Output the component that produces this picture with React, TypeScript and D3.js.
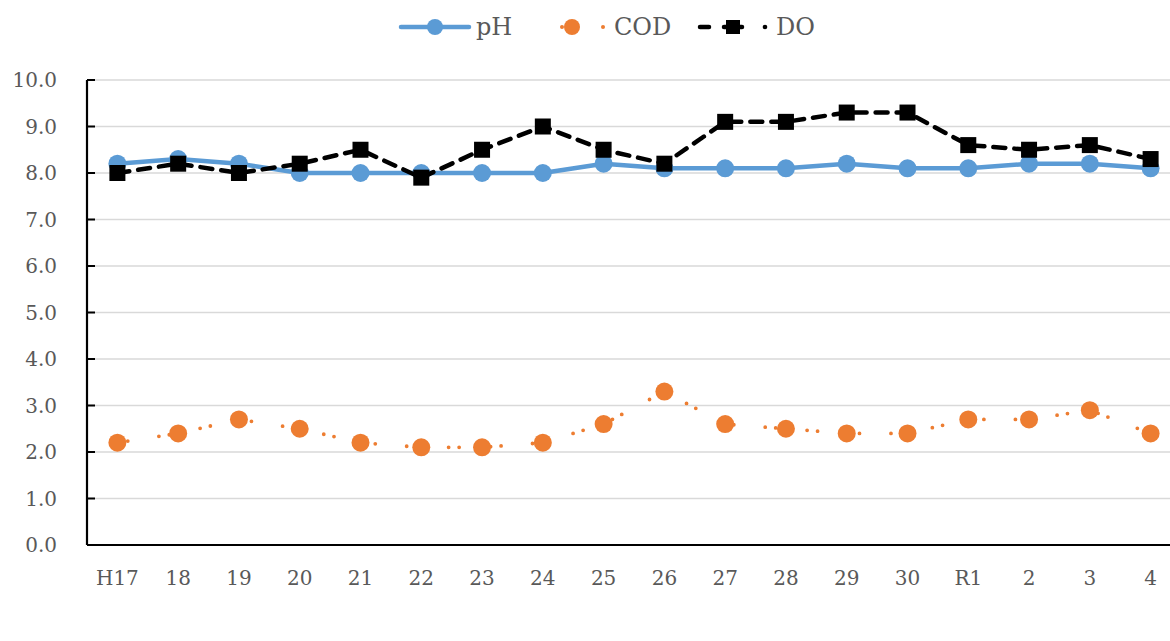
import React from "react";
import * as d3 from "d3";

const categories = ["H17", "18", "19", "20", "21", "22", "23", "24", "25", "26", "27", "28", "29", "30", "R1", "2", "3", "4"];
const phValues = [8.2, 8.3, 8.2, 8.0, 8.0, 8.0, 8.0, 8.0, 8.2, 8.1, 8.1, 8.1, 8.2, 8.1, 8.1, 8.2, 8.2, 8.1];
const codValues = [2.2, 2.4, 2.7, 2.5, 2.2, 2.1, 2.1, 2.2, 2.6, 3.3, 2.6, 2.5, 2.4, 2.4, 2.7, 2.7, 2.9, 2.4];
const doValues = [8.0, 8.2, 8.0, 8.2, 8.5, 7.9, 8.5, 9.0, 8.5, 8.2, 9.1, 9.1, 9.3, 9.3, 8.6, 8.5, 8.6, 8.3];
const yTicks = [0, 1, 2, 3, 4, 5, 6, 7, 8, 9, 10];

const W = 1170;
const H = 641;
const left = 87;
const right = 1181;
const top = 80;
const bottom = 545;
const FONT = "'DejaVu Serif', serif";
const BLUE = "#5B9BD5";
const ORANGE = "#ED7D31";
const GRAY = "#595959";

export default function App() {
  const x = d3.scaleBand<string>().domain(categories).range([left, right]);
  const cx = (c: string) => (x(c) as number) + x.bandwidth() / 2;
  const y = d3.scaleLinear().domain([0, 10]).range([bottom, top]);
  const line = d3.line<number>().x((_, i) => cx(categories[i])).y((v) => y(v));

  return (
    <svg width={W} height={H} style={{ position: "absolute", left: 0, top: 0, display: "block" }}>
      <rect x={0} y={0} width={W} height={H} fill="#fff" />
      {yTicks.map((t) => (
        <line key={"g" + t} x1={left} x2={W} y1={y(t)} y2={y(t)} stroke="#d9d9d9" strokeWidth={1.3} />
      ))}
      <line x1={left} x2={left} y1={top} y2={bottom} stroke="#000" strokeWidth={2.2} />
      <line x1={left} x2={W} y1={bottom} y2={bottom} stroke="#000" strokeWidth={2.2} />
      {yTicks.map((t) => (
        <line key={"t" + t} x1={left} x2={left + 8} y1={y(t)} y2={y(t)} stroke="#000" strokeWidth={2} />
      ))}
      {yTicks.map((t) => (
        <text key={"l" + t} x={57} y={y(t)} dy="0.35em" textAnchor="end" fontFamily={FONT} fontSize={20} fill={GRAY}>
          {d3.format(".1f")(t)}
        </text>
      ))}
      {categories.map((c) => (
        <text key={"x" + c} x={cx(c)} y={578} dy="0.35em" textAnchor="middle" fontFamily={FONT} fontSize={20} fill={GRAY}>
          {c}
        </text>
      ))}
      <path d={line(codValues) || ""} fill="none" stroke={ORANGE} strokeWidth={3.8} strokeLinecap="round" strokeDasharray="0 10.5 0 31.5" />
      {codValues.map((v, i) => (
        <circle key={"c" + i} cx={cx(categories[i])} cy={y(v)} r={9} fill={ORANGE} />
      ))}
      <path d={line(phValues) || ""} fill="none" stroke={BLUE} strokeWidth={4.5} strokeLinejoin="round" />
      {phValues.map((v, i) => (
        <circle key={"p" + i} cx={cx(categories[i])} cy={y(v)} r={9} fill={BLUE} />
      ))}
      <path d={line(doValues) || ""} fill="none" stroke="#000" strokeWidth={4.5} strokeLinecap="round" strokeDasharray="12 9" />
      {doValues.map((v, i) => (
        <rect key={"d" + i} x={cx(categories[i]) - 8} y={y(v) - 8} width={16} height={16} fill="#000" />
      ))}
      <g>
        <line x1={401} x2={469} y1={27} y2={27} stroke={BLUE} strokeWidth={4.5} strokeLinecap="round" />
        <circle cx={435} cy={27} r={8} fill={BLUE} />
        <text x={476} y={27} dy="0.35em" fontFamily={FONT} fontSize={24} fill={GRAY}>pH</text>

        <circle cx={562} cy={27} r={2} fill={ORANGE} />
        <circle cx={572} cy={27} r={8} fill={ORANGE} />
        <circle cx={603} cy={27} r={2} fill={ORANGE} />
        <text x={614} y={27} dy="0.35em" fontFamily={FONT} fontSize={24} fill={GRAY}>COD</text>

        <line x1={700} x2={709} y1={27} y2={27} stroke="#000" strokeWidth={4.5} strokeLinecap="round" />
        <line x1={724} x2={742} y1={27} y2={27} stroke="#000" strokeWidth={4.5} strokeLinecap="round" />
        <rect x={726} y={20} width={14} height={14} fill="#000" />
        <circle cx={765} cy={27} r={2.3} fill="#000" />
        <text x={776} y={27} dy="0.35em" fontFamily={FONT} fontSize={24} fill={GRAY}>DO</text>
      </g>
    </svg>
  );
}
